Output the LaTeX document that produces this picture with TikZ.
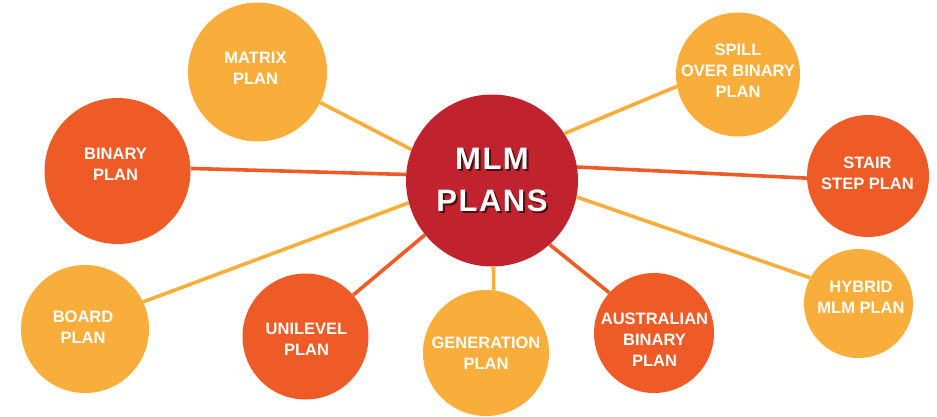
\documentclass[tikz,border=0pt]{standalone}
\usepackage{fontspec}
\setmainfont{Liberation Sans}
\newfontfamily\bigfont[LetterSpace=5]{Liberation Sans}
\definecolor{cyel}{HTML}{F9AE3B}
\definecolor{corg}{HTML}{EF5B26}
\definecolor{cred}{HTML}{C0232D}
\tikzset{
  bub/.style={circle, inner sep=0pt, draw=none, minimum size=#1},
  yel/.style={fill=cyel},
  org/.style={fill=corg},
  txt/.style={text=white, align=center, font=\fontsize{16.5}{21}\selectfont\bfseries, inner sep=0pt},
  bigtxt/.style={txt, font=\bigfont\fontsize{31}{42}\selectfont\bfseries},
  lnyel/.style={draw=cyel, line width=3.6pt},
  lnorg/.style={draw=corg, line width=3.6pt}
}
\begin{document}
\begin{tikzpicture}[x=1pt,y=-1pt]
\useasboundingbox (0,0) rectangle (937,416);
% circles
\node[bub=172pt, fill=cred] (mlm) at (492,180.5) {};
\node[bub=139pt, yel] (matrix) at (257.5,72) {};
\node[bub=146pt, org] (binary) at (117.5,171) {};
\node[bub=128pt, yel] (board) at (85,329) {};
\node[bub=126pt, org] (unilevel) at (305.5,336.5) {};
\node[bub=126pt, yel] (generation) at (486,353) {};
\node[bub=120pt, org] (austral) at (654,333) {};
\node[bub=124pt, yel] (spill) at (738,74.5) {};
\node[bub=122pt, org] (stair) at (868,176) {};
\node[bub=109pt, yel] (hybrid) at (858.5,303.5) {};
% connectors, from border to border
\draw[lnyel] (matrix.-26.4) -- (mlm.159.4);
\draw[lnorg] (binary.2.3) -- (mlm.176);
\draw[lnyel] (board.25) -- (mlm.195);
\draw[lnorg] (unilevel.41.8) -- (mlm.219.5);
\draw[lnyel] (generation.83) -- (mlm.271.5);
\draw[lnorg] (austral.138.3) -- (mlm.-48);
\draw[lnyel] (spill.191.8) -- (mlm.33.4);
\draw[lnorg] (stair.182.7) -- (mlm.9.6);
\draw[lnyel] (hybrid.152) -- (mlm.-11.6);
% texts
\node[txt] (matrixt) at (255.5,68.5) {MATRIX\\PLAN};
\node[txt] (binaryt) at (115.5,164.5) {BINARY\\PLAN};
\node[txt] (boardt) at (83,327) {BOARD\\PLAN};
\node[txt] (unilevelt) at (306.5,339.5) {UNILEVEL\\PLAN};
\node[txt] (generationt) at (486,353.5) {GENERATION\\PLAN};
\node[txt] (australt) at (654.5,340) {AUSTRALIAN\\BINARY\\PLAN};
\node[txt] (spillt) at (738,71) {SPILL\\OVER BINARY\\PLAN};
\node[txt] (stairt) at (867.5,173.5) {STAIR\\STEP PLAN};
\node[txt] (hybridt) at (861,297.5) {HYBRID\\MLM PLAN};
% title with its drop shadow
\node[bigtxt, text=black!75!cred, opacity=0.8] (mlmshadow) at (494,182) {MLM\\PLANS};
\node[bigtxt] (mlmt) at (492,180) {MLM\\PLANS};
\end{tikzpicture}
\end{document}
